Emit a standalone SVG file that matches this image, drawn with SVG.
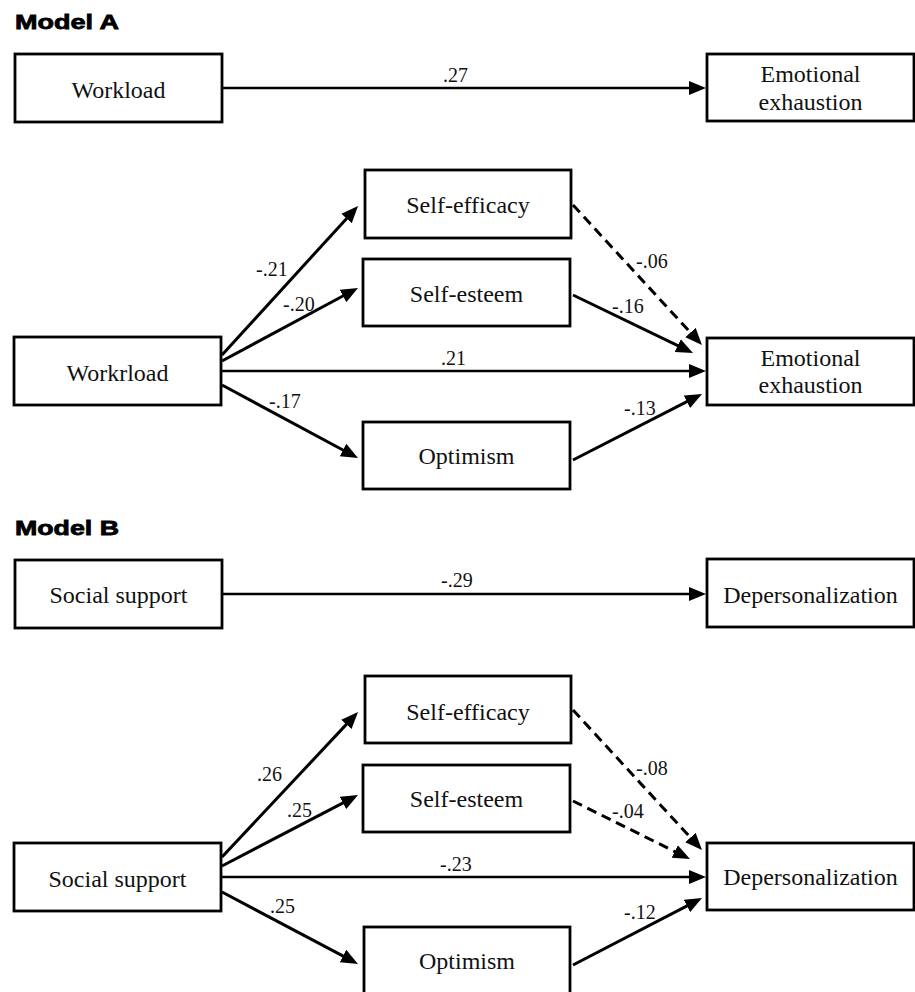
<svg xmlns="http://www.w3.org/2000/svg" width="915" height="992" viewBox="0 0 915 992">
<style>
.title{font-family:"Liberation Sans",Arial,sans-serif;font-weight:900;font-size:21px;fill:#000;stroke:#000;stroke-width:0.8}
.box{fill:#fff;stroke:#000;stroke-width:2.8}
.nt{font-family:"Liberation Serif","Times New Roman",serif;font-size:24px;fill:#111;text-anchor:middle}
.lb{font-family:"Liberation Serif","Times New Roman",serif;font-size:20px;fill:#111}
.h{fill:none;stroke:#000;stroke-width:2.6;marker-end:url(#ah)}
.d{fill:none;stroke:#000;stroke-width:3;marker-end:url(#ah)}
.ds{fill:none;stroke:#000;stroke-width:3;stroke-dasharray:10 6;marker-end:url(#ah)}
</style>
<defs>
<marker id="ah" markerUnits="userSpaceOnUse" markerWidth="18" markerHeight="15" refX="11" refY="7" orient="auto" viewBox="0 0 18 14">
<path d="M0,0 L17,7 L0,14 z" fill="#000"/>
</marker>
</defs>
<rect width="915" height="992" fill="#fff"/>
<text class="title" x="15" y="29" textLength="104" lengthAdjust="spacingAndGlyphs">Model A</text>
<text class="title" x="15" y="535" textLength="104" lengthAdjust="spacingAndGlyphs">Model B</text>

<g id="connectors">
<path class="h" d="M222,88 L700,88"/>
<path class="d" d="M222,355 L354,210.4"/>
<path class="d" d="M222,361 L352.7,290.8"/>
<path class="h" d="M222,371 L700,371"/>
<path class="d" d="M222,385 L352.7,455.2"/>
<path class="ds" d="M573,205 L697.9,340.6"/>
<path class="d" d="M573,295 L687.6,350.4"/>
<path class="d" d="M573,460 L696.7,396.7"/>

<path class="h" d="M222,594 L700,594"/>
<path class="d" d="M222,857 L353.9,716.4"/>
<path class="d" d="M222,866 L352.7,797.8"/>
<path class="h" d="M222,877 L700,877"/>
<path class="d" d="M222,892 L352.7,961.2"/>
<path class="ds" d="M573,710 L697.9,845.6"/>
<path class="ds" d="M573,801 L684.6,856.4"/>
<path class="d" d="M573,965 L696.7,900.8"/>

<text class="lb" x="443" y="82">.27</text>
<text class="lb" x="256" y="276">-.21</text>
<text class="lb" x="283" y="311">-.20</text>
<text class="lb" x="441" y="365">.21</text>
<text class="lb" x="269" y="408">-.17</text>
<text class="lb" x="636" y="268">-.06</text>
<text class="lb" x="612" y="313">-.16</text>
<text class="lb" x="624" y="415">-.13</text>

<text class="lb" x="441" y="587">-.29</text>
<text class="lb" x="257" y="781">.26</text>
<text class="lb" x="287" y="817">.25</text>
<text class="lb" x="440" y="871">-.23</text>
<text class="lb" x="270" y="913">.25</text>
<text class="lb" x="636" y="775">-.08</text>
<text class="lb" x="612" y="818">-.04</text>
<text class="lb" x="624" y="919">-.12</text>
</g>

<g id="a-workload"><rect class="box" x="15" y="54" width="207" height="68"/><text class="nt" x="118.5" y="98">Workload</text></g>
<g id="a-ee1"><rect class="box" x="707" y="54" width="207" height="67"/><text class="nt" x="810.5" y="82">Emotional</text><text class="nt" x="810.5" y="110">exhaustion</text></g>
<g id="a-selfefficacy"><rect class="box" x="365" y="170" width="206" height="68"/><text class="nt" x="468" y="213">Self-efficacy</text></g>
<g id="a-selfesteem"><rect class="box" x="363" y="259" width="207" height="67"/><text class="nt" x="466.5" y="302">Self-esteem</text></g>
<g id="a-workrload"><rect class="box" x="14" y="337" width="207" height="68"/><text class="nt" x="117.5" y="381">Workrload</text></g>
<g id="a-optimism"><rect class="box" x="363" y="422" width="207" height="67"/><text class="nt" x="466.5" y="464">Optimism</text></g>
<g id="a-ee2"><rect class="box" x="707" y="338" width="207" height="67"/><text class="nt" x="810.5" y="366">Emotional</text><text class="nt" x="810.5" y="393">exhaustion</text></g>

<g id="b-social1"><rect class="box" x="15" y="560" width="207" height="68"/><text class="nt" x="118.5" y="603">Social support</text></g>
<g id="b-dep1"><rect class="box" x="707" y="559" width="207" height="68"/><text class="nt" x="810.5" y="603">Depersonalization</text></g>
<g id="b-selfefficacy"><rect class="box" x="365" y="676" width="206" height="67"/><text class="nt" x="468" y="720">Self-efficacy</text></g>
<g id="b-selfesteem"><rect class="box" x="363" y="765" width="207" height="67"/><text class="nt" x="466.5" y="807">Self-esteem</text></g>
<g id="b-social2"><rect class="box" x="14" y="843" width="207" height="68"/><text class="nt" x="117.5" y="887">Social support</text></g>
<g id="b-optimism"><rect class="box" x="364" y="927" width="206" height="75"/><text class="nt" x="467" y="969">Optimism</text></g>
<g id="b-dep2"><rect class="box" x="707" y="843" width="207" height="67"/><text class="nt" x="810.5" y="885">Depersonalization</text></g>
</svg>
